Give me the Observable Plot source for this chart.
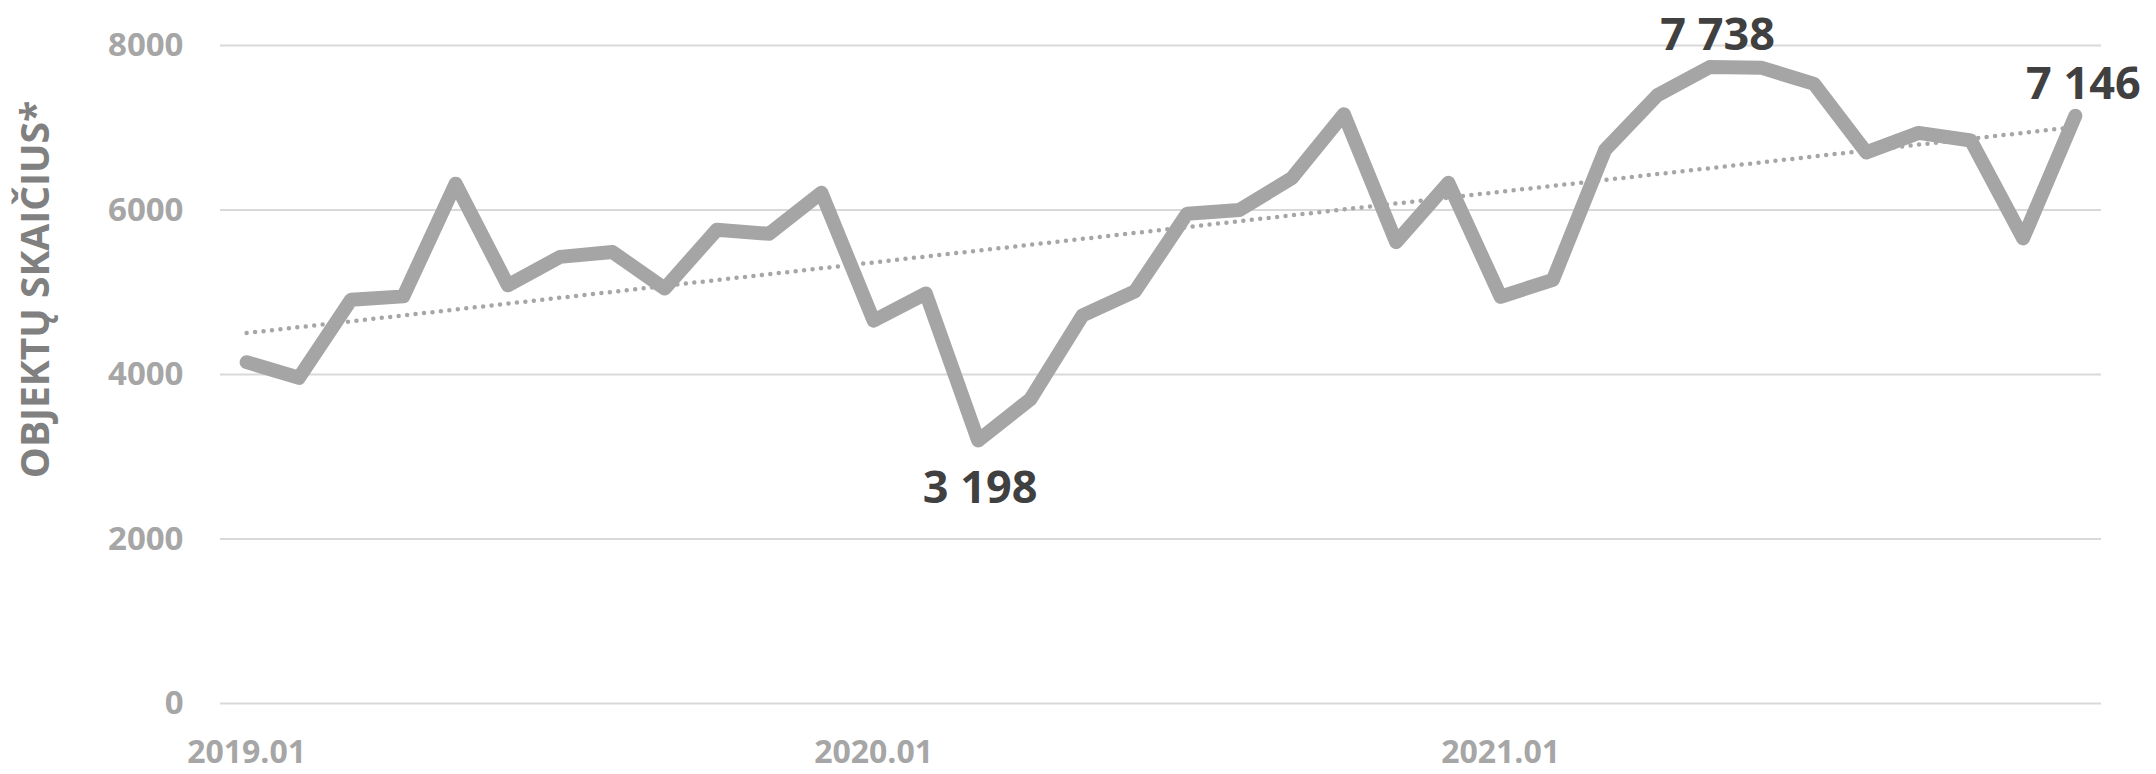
<!DOCTYPE html>
<html><head><meta charset="utf-8">
<script src="https://cdn.jsdelivr.net/npm/d3@7"></script>
<script src="https://cdn.jsdelivr.net/npm/@observablehq/plot@0.6"></script>
<style>html,body{margin:0;padding:0;background:#fff;} svg{display:block;}</style>
</head><body><div id="chart"></div>
<script>
const months = [
  "2019.01","2019.02","2019.03","2019.04","2019.05","2019.06","2019.07","2019.08","2019.09","2019.10","2019.11","2019.12",
  "2020.01","2020.02","2020.03","2020.04","2020.05","2020.06","2020.07","2020.08","2020.09","2020.10","2020.11","2020.12",
  "2021.01","2021.02","2021.03","2021.04","2021.05","2021.06","2021.07","2021.08","2021.09","2021.10","2021.11","2021.12"
];
const counts = [
  4150, 3960, 4910, 4950, 6320, 5085, 5430, 5490, 5045, 5760, 5710, 6210,
  4655, 4985, 3198, 3700, 4720, 5010, 5955, 6000, 6385, 7165, 5610, 6330,
  4945, 5150, 6730, 7395, 7738, 7728, 7533, 6700, 6937, 6845, 5655, 7146
];
const xTickMonths = ["2019.01", "2020.01", "2021.01"];
const yTicks = [0, 2000, 4000, 6000, 8000];
const yTitle = "OBJEKTŲ SKAIČIUS*";
const labelsBelow = ["2020.03"];
const labelsAbove = ["2021.05", "2021.12"];

const data = months.map((m, i) => ({i, month: m, value: counts[i]}));
const fmt = d3.formatLocale({thousands: " ", grouping: [3], decimal: ",", currency: ["", ""]}).format(",d");
const idx = m => months.indexOf(m);

const chart = Plot.plot({
  width: 2156, height: 774,
  marginLeft: 220, marginRight: 55, marginTop: 45, marginBottom: 71,
  style: {fontFamily: "'Open Sans', sans-serif", background: "#fff"},
  x: {type: "linear", domain: [-0.5, months.length - 0.5]},
  y: {domain: [0, 8000]},
  marks: [
    Plot.ruleY(yTicks, {stroke: "#d9d9d9", strokeWidth: 2}),
    Plot.axisY({ticks: yTicks, tickSize: 0, tickPadding: 37, fontSize: 33, fontWeight: "bold",
      fill: "#a6a6a6", label: null, tickFormat: d => String(d)}),
    Plot.axisX({ticks: xTickMonths.map(idx), tickSize: 0, tickPadding: 37, fontSize: 32, fontWeight: "bold",
      fill: "#a6a6a6", label: null, tickFormat: i => months[i]}),
    Plot.line(data, {x: "i", y: "value", stroke: "#a5a5a5", strokeWidth: 14,
      strokeLinejoin: "round", strokeLinecap: "round"}),
    Plot.linearRegressionY(data, {x: "i", y: "value", ci: 0, stroke: "#a6a6a6", strokeWidth: 4.5,
      strokeDasharray: "0 8.5", strokeLinecap: "round"}),
    Plot.text(data.filter(d => labelsBelow.includes(d.month)), {x: "i", y: "value", text: d => fmt(d.value),
      dy: 48, dx: 2, fontSize: 45, fontWeight: "bold", fill: "#404040"}),
    Plot.text(data.filter(d => labelsAbove.includes(d.month)), {x: "i", y: "value", text: d => fmt(d.value),
      dy: -31, dx: 8, fontSize: 45, fontWeight: "bold", fill: "#404040"}),
    Plot.text([yTitle], {text: d => d, frameAnchor: "left", textAnchor: "middle", dx: -184, dy: -85,
      rotate: -90, fontSize: 39, fontWeight: "bold", fill: "#808080"})
  ]
});
document.getElementById("chart").appendChild(chart);
</script>
</body></html>
